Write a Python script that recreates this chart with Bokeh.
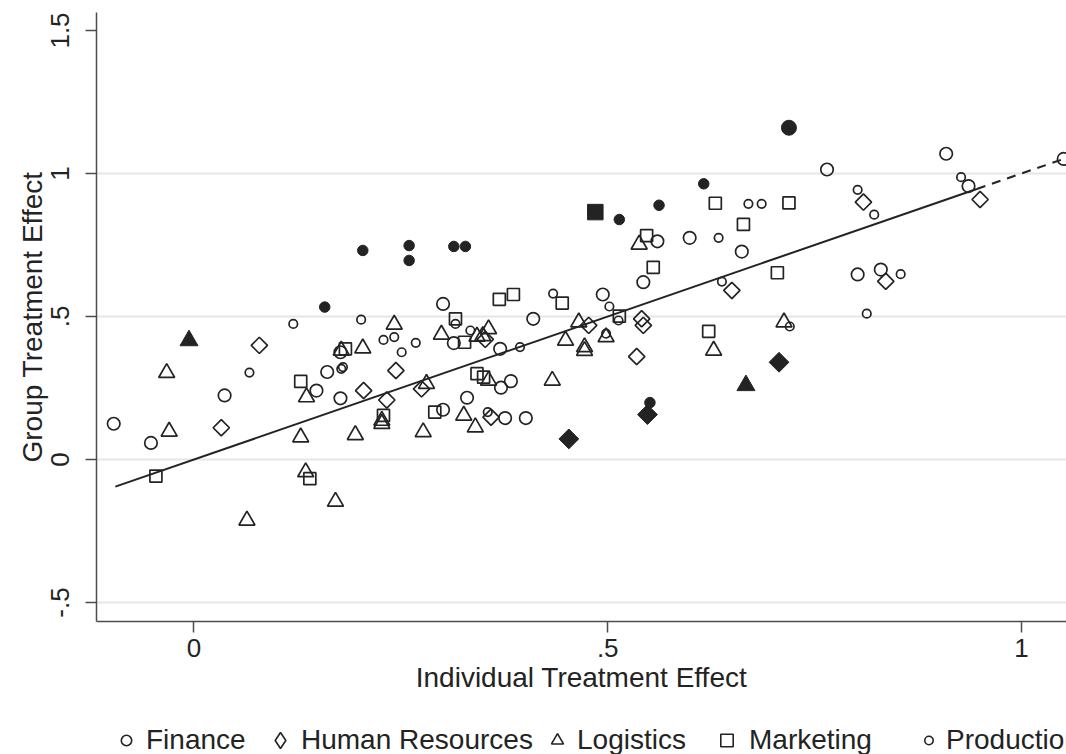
from bokeh.plotting import figure
from bokeh.layouts import column
from bokeh.models import FixedTicker, Legend, LegendItem, Range1d
from bokeh.embed import file_html
from bokeh.resources import INLINE

# ---------------- data ----------------
categories = ["Finance", "Human Resources", "Logistics", "Marketing", "Production"]

fin_x = [-0.097, -0.052, 0.037, 0.148, 0.161, 0.177, 0.177, 0.301, 0.301, 0.314, 0.330, 0.370, 0.371, 0.376,
         0.383, 0.401, 0.410, 0.494, 0.543, 0.560, 0.599, 0.662, 0.765, 0.802, 0.830, 0.909, 0.936, 1.051]
fin_y = [0.125, 0.058, 0.224, 0.241, 0.306, 0.214, 0.375, 0.544, 0.174, 0.407, 0.216, 0.387, 0.251, 0.145,
         0.274, 0.145, 0.492, 0.577, 0.620, 0.763, 0.775, 0.727, 1.014, 0.647, 0.664, 1.069, 0.956, 1.051]
fin_fill_x = [0.719]
fin_fill_y = [1.160]

hr_x = [0.033, 0.079, 0.205, 0.233, 0.244, 0.275, 0.352, 0.359, 0.477, 0.535, 0.541, 0.543, 0.650, 0.809, 0.836, 0.950]
hr_y = [0.111, 0.399, 0.241, 0.208, 0.311, 0.247, 0.420, 0.148, 0.469, 0.360, 0.492, 0.469, 0.591, 0.900, 0.623, 0.909]
hr_fill_x = [0.453, 0.548, 0.707]
hr_fill_y = [0.072, 0.157, 0.340]

log_x = [-0.033, -0.030, 0.064, 0.129, 0.135, 0.136, 0.171, 0.178, 0.195, 0.204, 0.227, 0.227, 0.242, 0.277, 0.281,
         0.299, 0.326, 0.340, 0.342, 0.349, 0.356, 0.356, 0.433, 0.449, 0.465, 0.472, 0.472, 0.498, 0.538, 0.628, 0.713]
log_y = [0.303, 0.098, -0.213, 0.078, -0.044, 0.218, -0.147, 0.381, 0.086, 0.389, 0.136, 0.125, 0.472, 0.096, 0.265,
         0.437, 0.154, 0.113, 0.430, 0.432, 0.456, 0.276, 0.276, 0.416, 0.480, 0.393, 0.380, 0.428, 0.752, 0.381, 0.480]
log_fill_x = [-0.006, 0.667]
log_fill_y = [0.416, 0.259]

mkt_x = [-0.046, 0.129, 0.140, 0.183, 0.229, 0.291, 0.316, 0.327, 0.342, 0.350, 0.369, 0.386, 0.445, 0.514,
         0.547, 0.555, 0.622, 0.630, 0.664, 0.705, 0.719]
mkt_y = [-0.058, 0.273, -0.067, 0.387, 0.154, 0.166, 0.492, 0.410, 0.300, 0.288, 0.560, 0.577, 0.547, 0.501,
         0.783, 0.672, 0.448, 0.896, 0.822, 0.653, 0.897]
mkt_fill_x = [0.485]
mkt_fill_y = [0.865]

prd_x = [0.067, 0.120, 0.178, 0.180, 0.202, 0.229, 0.242, 0.251, 0.268, 0.316, 0.334, 0.355, 0.394, 0.434,
         0.498, 0.502, 0.513, 0.634, 0.638, 0.670, 0.686, 0.720, 0.802, 0.813, 0.822, 0.854, 0.927]
prd_y = [0.304, 0.474, 0.317, 0.323, 0.489, 0.418, 0.428, 0.375, 0.408, 0.474, 0.451, 0.166, 0.393, 0.580,
         0.440, 0.535, 0.486, 0.775, 0.622, 0.894, 0.894, 0.465, 0.943, 0.510, 0.856, 0.648, 0.987]
prd_fill_x = [0.158, 0.204, 0.260, 0.260, 0.314, 0.328, 0.514, 0.551, 0.562, 0.616]
prd_fill_y = [0.533, 0.731, 0.748, 0.696, 0.745, 0.745, 0.839, 0.199, 0.889, 0.964]

# 45-degree reference line: solid over the data, dashed beyond
fit_solid_x = [-0.095, 0.946]
fit_solid_y = [-0.095, 0.946]
fit_dash_x = [0.946, 1.06]
fit_dash_y = [0.946, 1.06]

x_ticks = [0, 0.5, 1]
x_tick_labels = ["0", ".5", "1"]
y_ticks = [-0.5, 0, 0.5, 1, 1.5]
y_tick_labels = ["-.5", "0", ".5", "1", "1.5"]
grid_ticks = [-0.5, 0, 0.5, 1]

# ---------------- style ----------------
INK = "#232323"
AXIS = "#4d4d4d"
FONT = "Liberation Sans"
DIAG = 0.7853981634  # 45 degrees: squares drawn as diamonds

p = figure(width=1066, height=700, output_backend="svg", toolbar_location=None,
           x_range=Range1d(-0.1178, 1.0544), y_range=Range1d(-0.5664, 1.5629),
           min_border_left=96, min_border_right=0, min_border_top=12, min_border_bottom=79)
p.outline_line_color = None
p.background_fill_color = "white"
p.border_fill_color = "white"

p.xgrid.visible = False
p.ygrid.ticker = FixedTicker(ticks=grid_ticks)
p.ygrid.grid_line_color = "#e6e6e6"
p.ygrid.grid_line_width = 2

p.xaxis.ticker = FixedTicker(ticks=x_ticks)
p.xaxis.major_label_overrides = {t: l for t, l in zip(x_ticks, x_tick_labels)}
p.yaxis.ticker = FixedTicker(ticks=y_ticks)
p.yaxis.major_label_overrides = {t: l for t, l in zip(y_ticks, y_tick_labels)}
p.yaxis.major_label_orientation = "vertical"
p.xaxis.axis_label = "Individual Treatment Effect"
p.yaxis.axis_label = "Group Treatment Effect"

for ax in (p.xaxis[0], p.yaxis[0]):
    ax.axis_line_color = AXIS
    ax.axis_line_width = 1.5
    ax.major_tick_line_color = AXIS
    ax.major_tick_line_width = 1.5
    ax.major_tick_out = 11
    ax.major_tick_in = 0
    ax.minor_tick_line_color = None
    ax.major_label_text_font = FONT
    ax.major_label_text_font_size = "26px"
    ax.major_label_text_color = INK
    ax.axis_label_text_font = FONT
    ax.axis_label_text_font_size = "28px"
    ax.axis_label_text_font_style = "normal"
    ax.axis_label_text_color = INK

p.xaxis.major_label_standoff = 6
p.xaxis.axis_label_standoff = 2
p.yaxis.major_label_standoff = 16
p.yaxis.axis_label_standoff = 1

# reference line
p.line(fit_solid_x, fit_solid_y, line_color=INK, line_width=2)
p.line(fit_dash_x, fit_dash_y, line_color=INK, line_width=2, line_dash="9 7")

LW = 1.7
p.scatter(fin_x, fin_y, marker="circle", size=12.5, line_color=INK, fill_color=None, line_width=LW)
p.scatter(hr_x, hr_y, marker="square", angle=DIAG, size=11.5, line_color=INK, fill_color=None, line_width=LW)
p.scatter(log_x, log_y, marker="triangle", size=16, line_color=INK, fill_color=None, line_width=LW)
p.scatter(mkt_x, mkt_y, marker="square", size=12, line_color=INK, fill_color=None, line_width=LW)
p.scatter(prd_x, prd_y, marker="circle", size=8.5, line_color=INK, fill_color=None, line_width=LW)

p.scatter(fin_fill_x, fin_fill_y, marker="circle", size=15, line_color=INK, fill_color=INK, line_width=1)
p.scatter(hr_fill_x, hr_fill_y, marker="square", angle=DIAG, size=14, line_color=INK, fill_color=INK, line_width=1)
p.scatter(log_fill_x, log_fill_y, marker="triangle", size=18, line_color=INK, fill_color=INK, line_width=1)
p.scatter(mkt_fill_x, mkt_fill_y, marker="square", size=15.5, line_color=INK, fill_color=INK, line_width=1)
p.scatter(prd_fill_x, prd_fill_y, marker="circle", size=10.5, line_color=INK, fill_color=INK, line_width=1)

# ---------------- legend row (its own strip under the plot) ----------------
lg = figure(width=1066, height=54, output_backend="svg", toolbar_location=None,
            x_range=Range1d(0, 1), y_range=Range1d(0, 1),
            min_border_left=0, min_border_right=0, min_border_top=0, min_border_bottom=0)
lg.outline_line_color = None
lg.axis.visible = False
lg.grid.visible = False
lg.border_fill_color = "white"
lg.background_fill_color = "white"

key_fin = lg.scatter(fin_x, fin_y, marker="circle", line_color=INK, fill_color=None, line_width=1.6, visible=False)
key_hr = lg.scatter(hr_x, hr_y, marker="diamond", line_color=INK, fill_color=None, line_width=1.6, visible=False)
key_log = lg.scatter(log_x, log_y, marker="triangle", line_color=INK, fill_color=None, line_width=1.6, visible=False)
key_mkt = lg.scatter(mkt_x, mkt_y, marker="square", line_color=INK, fill_color=None, line_width=1.6, visible=False)
key_prd = lg.scatter(prd_x, prd_y, marker="circle", line_color=INK, fill_color=None, line_width=1.6, visible=False)

# (label, key renderer, glyph box width, offset from the aligned frame edge px, label standoff)
legend_rows = [
    (categories[0], key_fin, 26, 17, 7),
    (categories[1], key_hr, 40, 164, 1),
    (categories[2], key_log, 30, 446, 5),
    (categories[3], key_mkt, 31, 615, 7),
    (categories[4], key_prd, 21, 822, 7),
]
for label, rend, gw, vx, standoff in legend_rows:
    leg = Legend(items=[LegendItem(label=label, renderers=[rend])],
                 location=(vx, -6), orientation="horizontal",
                 glyph_width=gw, glyph_height=40, label_standoff=standoff,
                 padding=0, margin=0, spacing=0, border_line_color=None,
                 background_fill_alpha=0, label_text_font=FONT,
                 label_text_font_size="28px", label_text_color=INK,
                 click_policy="none")
    lg.add_layout(leg, "center")

layout = column(p, lg, spacing=0)
open("out.html", "w").write(file_html(layout, INLINE))
